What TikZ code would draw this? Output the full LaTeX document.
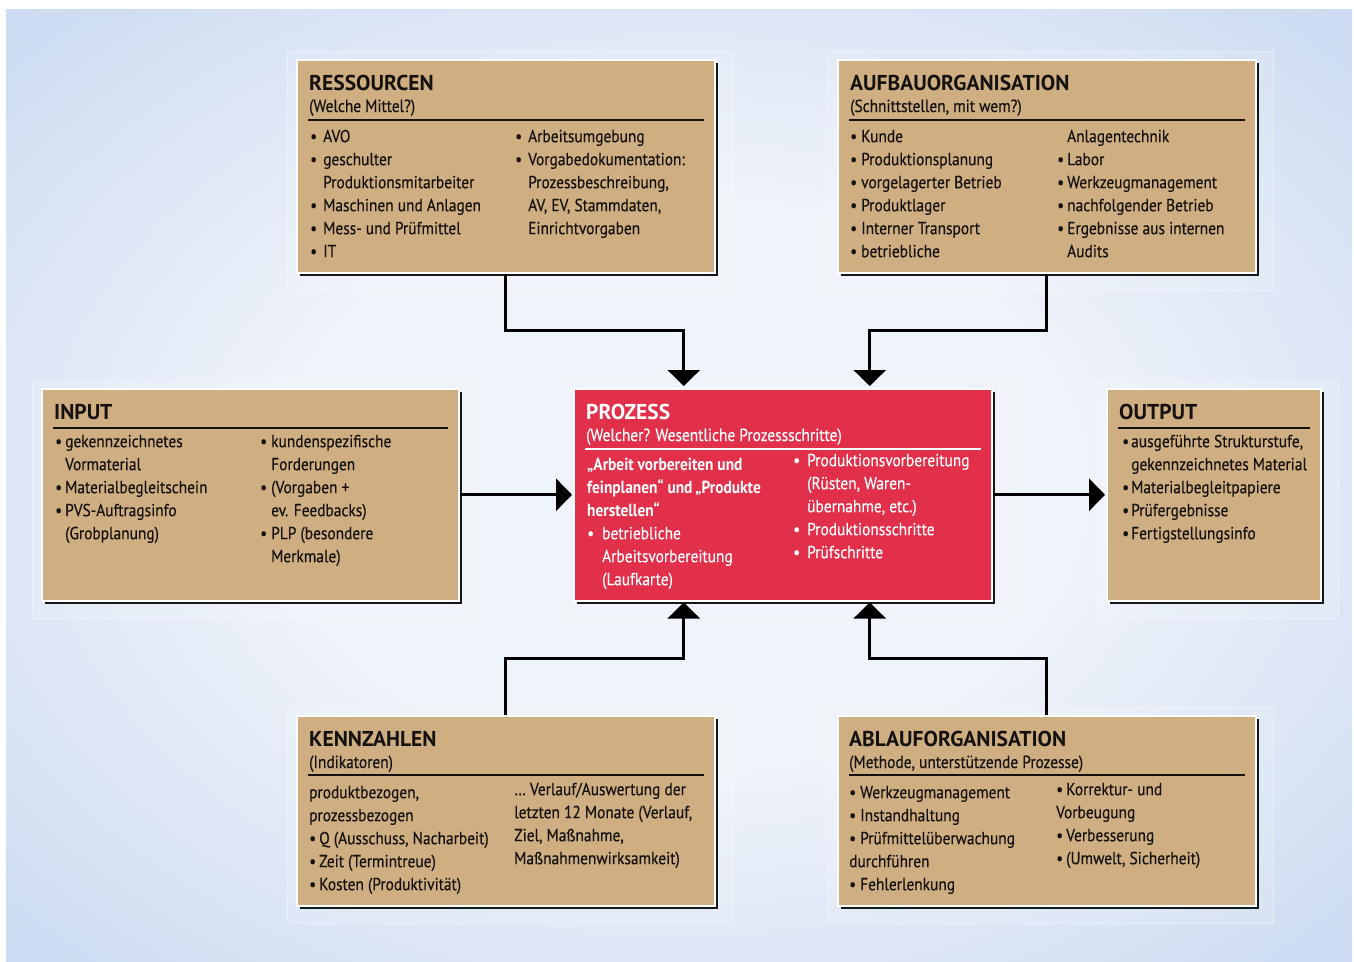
\documentclass[tikz,border=0pt]{standalone}
\usepackage{fontspec}
\setmainfont{PT Sans}[FakeStretch=0.88, UprightFeatures={FakeBold=0.4}]
\newfontfamily\headfont{PT Sans}
\usetikzlibrary{arrows.meta,calc,shadows,backgrounds}
\definecolor{boxtan}{RGB}{207,174,129}
\definecolor{procred}{RGB}{227,48,74}
\definecolor{ink}{RGB}{20,18,16}
\definecolor{bgblue}{RGB}{160,190,229}
\definecolor{bgmid}{RGB}{197,214,239}
\definecolor{bglight}{RGB}{239,243,250}
\pgfdeclareradialshading{bgshade}{\pgfpoint{0bp}{0bp}}{color(0bp)=(bglight); color(15bp)=(bglight); color(39bp)=(bgmid); color(71bp)=(bgblue)}
\newlength{\blw}
\newcommand{\bl}{\makebox[\blw][l]{•}}
\newcommand{\hg}{\hspace*{\blw}}
\newcommand{\fs}{\rule{0pt}{16pt}}

\begin{document}
\begin{tikzpicture}[x=1pt,y=-1pt]
\tikzset{
  panel/.style={draw=white, line width=1.5pt, fill=boxtan, anchor=north west, inner sep=0pt,
    drop shadow={shadow xshift=3pt, shadow yshift=-3pt, fill=black, opacity=.9}},
  halo/.style={fill=white, fill opacity=.12, draw=white, draw opacity=.35, line width=1pt},
  hd/.style={anchor=base west, inner sep=0pt, text=ink, font=\headfont\bfseries\fontsize{21.5}{25}\selectfont},
  sb/.style={anchor=base west, inner sep=0pt, text=ink, font=\fontsize{17.5}{23}\selectfont},
  txt/.style={anchor=north west, inner sep=0pt, yshift=18pt, align=left, text=ink,
    font=\fontsize{17.5}{23}\selectfont, execute at begin node={\setlength{\blw}{#1}}},
  hrule/.style={line width=1.5pt, draw=ink},
  conn/.style={line width=3pt, -{Triangle[width=32pt,length=16pt]}},
}
\useasboundingbox (0,0) rectangle (1354,961);

\node [panel, minimum width=418pt, minimum height=213pt] (res) at (296,59) {};
\node [panel, minimum width=418pt, minimum height=213pt] (aufb) at (837,59) {};
\node [panel, fill=procred, minimum width=418pt, minimum height=212pt] (proz) at (573,388) {};
\node [panel, minimum width=417pt, minimum height=212pt] (inp) at (41,388) {};
\node [panel, minimum width=214pt, minimum height=212pt] (outp) at (1106,388) {};
\node [panel, minimum width=418pt, minimum height=190pt] (kenn) at (296,715) {};
\node [panel, minimum width=418pt, minimum height=190pt] (abl) at (837,715) {};

\begin{scope}[on background layer]
\shade [shading=bgshade] (6,9) rectangle (1352,961);
\foreach \b in {res,aufb,proz,inp,outp,kenn,abl}
  \fill [halo] ($(\b.north west)+(-9,-8)$) rectangle ($(\b.south east)+(17,17)$);
\end{scope}

\draw [hrule] ($(res.north west)+(12,61)$) -- ($(res.north east)+(-12,61)$);
\draw [hrule] ($(aufb.north west)+(12,61)$) -- ($(aufb.north east)+(-12,61)$);
\draw [hrule, draw=white] ($(proz.north west)+(12,61)$) -- ($(proz.north east)+(-12,61)$);
\draw [hrule] ($(inp.north west)+(12,40)$) -- ($(inp.north east)+(-12,40)$);
\draw [hrule] ($(outp.north west)+(12,40)$) -- ($(outp.north east)+(-12,40)$);
\draw [hrule] ($(kenn.north west)+(12,60)$) -- ($(kenn.north east)+(-12,60)$);
\draw [hrule] ($(abl.north west)+(12,60)$) -- ($(abl.north east)+(-12,60)$);

\node [hd] (res-h) at (309,90) {RESSOURCEN};
\node [sb] (res-s) at (309,112) {(Welche Mittel?)};
\node [txt=13pt] (res-l) at (310,144) {\fs\bl AVO\\ \bl geschulter\\ \hg Produktionsmitarbeiter\\ \bl Maschinen und Anlagen\\ \bl Mess- und Prüfmittel\\ \bl IT};
\node [txt=13pt] (res-r) at (515,144) {\fs\bl Arbeitsumgebung\\ \bl Vorgabedokumentation:\\ \hg Prozessbeschreibung,\\ \hg AV, EV, Stammdaten,\\ \hg Einrichtvorgaben};

\node [hd] (aufb-h) at (850,90) {AUFBAUORGANISATION};
\node [sb] (aufb-s) at (850,112) {(Schnittstellen, mit wem?)};
\node [txt=11pt] (aufb-l) at (850,144) {\fs\bl Kunde\\ \bl Produktionsplanung\\ \bl vorgelagerter Betrieb\\ \bl Produktlager\\ \bl Interner Transport\\ \bl betriebliche};
\node [txt=10pt] (aufb-r) at (1057,144) {\fs\hg Anlagentechnik\\ \bl Labor\\ \bl Werkzeugmanagement\\ \bl nachfolgender Betrieb\\ \bl Ergebnisse aus internen\\ \hg Audits};

\node [hd, text=white] (proz-h) at (586,419) {PROZESS};
\node [sb, text=white] (proz-s) at (586,441) {(Welcher? Wesentliche Prozessschritte)};
\node [txt=15pt, text=white] (proz-l) at (587,472) {\fs\textbf{„Arbeit vorbereiten und}\\ \textbf{feinplanen“ und\,„Produkte}\\ \textbf{herstellen“}\\ \bl betriebliche\\ \hg Arbeitsvorbereitung\\ \hg (Laufkarte)};
\node [txt=14pt, text=white] (proz-r) at (793,468) {\fs\bl Produktionsvorbereitung\\ \hg (Rüsten, Waren-\\ \hg übernahme, etc.)\\ \bl Produktionsschritte\\ \bl Prüfschritte};

\node [hd] (inp-h) at (54,419) {INPUT};
\node [txt=10pt] (inp-l) at (55,449) {\fs\bl gekennzeichnetes\\ \hg Vormaterial\\ \bl Materialbegleitschein\\ \bl PVS-Auftragsinfo\\ \hg (Grobplanung)};
\node [txt=11pt] (inp-r) at (260,449) {\fs\bl kundenspezifische\\ \hg Forderungen\\ \bl (Vorgaben +\\ \hg ev. Feedbacks)\\ \bl PLP (besondere\\ \hg Merkmale)};

\node [hd] (outp-h) at (1119,419) {OUTPUT};
\node [txt=9pt] (outp-l) at (1122,449) {\fs\bl ausgeführte Strukturstufe,\\ \hg gekennzeichnetes Material\\ \bl Materialbegleitpapiere\\ \bl Prüfergebnisse\\ \bl Fertigstellungsinfo};

\node [hd] (kenn-h) at (309,746) {KENNZAHLEN};
\node [sb] (kenn-s) at (309,768) {(Indikatoren)};
\node [txt=10pt] (kenn-l) at (309,800) {\fs produktbezogen,\\ prozessbezogen\\ \bl Q (Ausschuss, Nacharbeit)\\ \bl Zeit (Termintreue)\\ \bl Kosten (Produktivität)};
\node [txt=10pt] (kenn-r) at (514,797) {\fs… Verlauf/Auswertung der\\ letzten 12 Monate (Verlauf,\\ Ziel, Maßnahme,\\ Maßnahmenwirksamkeit)};

\node [hd] (abl-h) at (849,746) {ABLAUFORGANISATION};
\node [sb] (abl-s) at (849,768) {(Methode, unterstützende Prozesse)};
\node [txt=11pt] (abl-l) at (849,800) {\fs\bl Werkzeugmanagement\\ \bl Instandhaltung\\ \bl Prüfmittelüberwachung\\ durchführen\\ \bl Fehlerlenkung};
\node [txt=10pt] (abl-r) at (1056,797) {\fs\bl Korrektur- und\\ Vorbeugung\\ \bl Verbesserung\\ \bl (Umwelt, Sicherheit)};

\coordinate (pa) at ($(proz.north)+(-99,0)$);
\coordinate (pb) at ($(proz.north)+(87,0)$);
\coordinate (pc) at ($(proz.south)+(-99,0)$);
\coordinate (pd) at ($(proz.south)+(87,0)$);

\draw [conn, shorten >=2pt] (res.south) |- ($(res.south)!.5!(pa)$) -| (pa);
\draw [conn, shorten >=2pt] (aufb.south) |- ($(aufb.south)!.5!(pb)$) -| (pb);
\draw [conn, shorten >=1pt] (kenn.north) |- ($(kenn.north)!.5!(pc)$) -| (pc);
\draw [conn, shorten >=1pt] (abl.north) |- ($(abl.north)!.5!(pd)$) -| (pd);
\draw [conn, shorten >=1pt] (inp.east) -- (proz.west);
\draw [conn, shorten >=1pt] (proz.east) -- (outp.west);
\end{tikzpicture}
\end{document}
